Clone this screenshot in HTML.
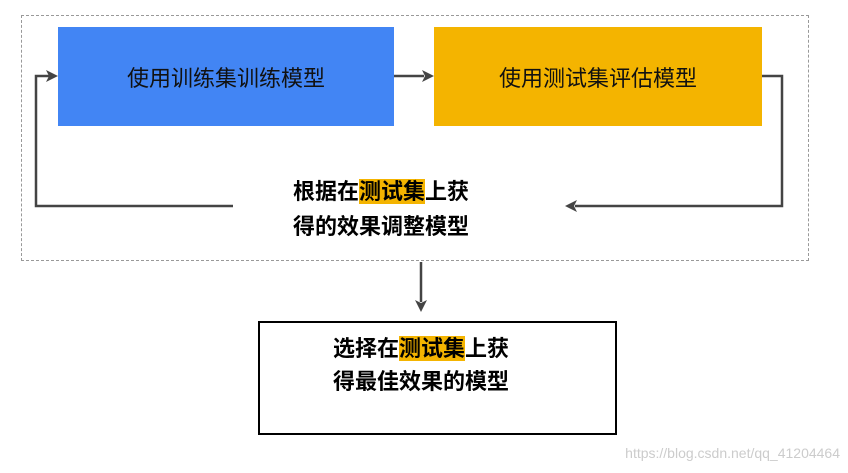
<!DOCTYPE html>
<html><head><meta charset="utf-8"><style>
body{margin:0;width:848px;height:473px;background:#fff;position:relative;overflow:hidden;font-family:"Liberation Sans","Noto Sans CJK SC",sans-serif}
.a{position:absolute}
.t{position:absolute;white-space:nowrap;font-weight:bold;font-size:22px;color:#000;line-height:32px}
.h{background:#f4b400}
</style></head><body>
<div class="a" style="left:21px;top:15px;width:786px;height:244px;border:1px dashed #999"></div>
<div class="a" style="left:58px;top:27px;width:336px;height:99px;background:#4285f4;color:#111;font-size:22px;display:flex;align-items:center;justify-content:center">使用训练集训练模型</div>
<div class="a" style="left:434px;top:27px;width:328px;height:99px;background:#f4b400;color:#111;font-size:22px;display:flex;align-items:center;justify-content:center">使用测试集评估模型</div>
<svg class="a" style="left:0;top:0" width="848" height="473">
<g stroke="#444" stroke-width="2.5" fill="none">
<path d="M394 76H424"/>
<path d="M233 206H36V76H50"/>
<path d="M762 76H782V206H575"/>
<path d="M421 262V302"/>
</g>
<g fill="#444">
<path d="M434 76L422 70L425 76L422 82Z"/>
<path d="M58 76L46 70L49 76L46 82Z"/>
<path d="M565 206L577 200L574 206L577 212Z"/>
<path d="M421 312L415 300L421 303L427 300Z"/>
</g>
<rect x="259" y="322" width="357" height="112" fill="none" stroke="#000" stroke-width="2"/>
</svg>
<div class="t" style="left:293px;top:176px">根据在<span class="h">测试集</span>上获</div>
<div class="t" style="left:293px;top:211px">得的效果调整模型</div>
<div class="t" style="left:333px;top:333px">选择在<span class="h">测试集</span>上获</div>
<div class="t" style="left:333px;top:366px">得最佳效果的模型</div>
<div class="a" style="right:8px;top:445px;font-size:14px;color:#ccc">https://blog.csdn.net/qq_41204464</div>
</body></html>
